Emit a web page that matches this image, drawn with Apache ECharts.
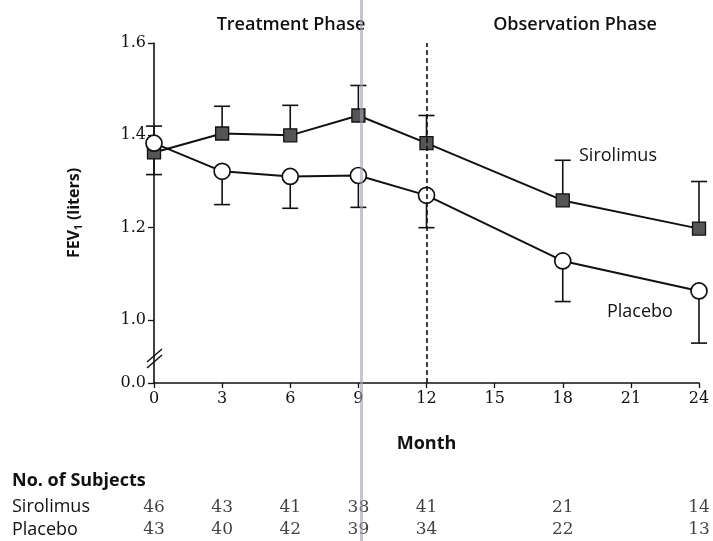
<!DOCTYPE html>
<html>
<head>
<meta charset="utf-8">
<script src="https://cdn.jsdelivr.net/npm/echarts@6/dist/echarts.min.js"></script>
<style>html,body{margin:0;padding:0;background:#fff;}#c{width:713px;height:541px;}</style>
</head>
<body>
<div id="c"></div>
<script>
// ---- data ----
const months = [0, 3, 6, 9, 12, 18, 24];
const sirolimusMean  = [1.363, 1.404, 1.400, 1.443, 1.383, 1.259, 1.198];
const sirolimusUpper = [1.420, 1.463, 1.465, 1.508, 1.443, 1.346, 1.300];
const placeboMean    = [1.383, 1.322, 1.311, 1.313, 1.270, 1.128, 1.063];
const placeboLower   = [1.315, 1.250, 1.242, 1.244, 1.200, 1.040, 0.950];
const sirolimusN = [46, 43, 41, 38, 41, 21, 14];
const placeboN   = [43, 40, 42, 39, 34, 22, 13];
const groups = ['Sirolimus', 'Placebo'];
// y axis: broken axis, "0.0" drawn just below the break
const yTickValues = [0.8636, 1.0, 1.2, 1.4, 1.6];
const yTickLabels = ['0.0', '1.0', '1.2', '1.4', '1.6'];

const numFont = 'DejaVu Serif';
const txtFont = 'Open Sans';

const chart = echarts.init(document.getElementById('c'), null, {renderer: 'canvas'});

function errRender(params, api) {
  const x = api.value(0);
  const p0 = api.coord([x, api.value(1)]);
  const p1 = api.coord([x, api.value(2)]);
  const st = {stroke: '#111', lineWidth: 1.6};
  return {
    type: 'group',
    children: [
      {type: 'line', shape: {x1: p0[0], y1: p0[1], x2: p1[0], y2: p1[1]}, style: st},
      {type: 'line', shape: {x1: p1[0] - 8, y1: p1[1], x2: p1[0] + 8, y2: p1[1]}, style: st}
    ]
  };
}

const tableData = [];
months.forEach((m, i) => {
  tableData.push({value: [m, groups[0], sirolimusN[i]]});
  tableData.push({value: [m, groups[1], placeboN[i]]});
});

const option = {
  animation: false,
  backgroundColor: '#fff',
  grid: [
    {left: 154, right: 14, top: 43, height: 340},
    {left: 154, right: 14, top: 496, height: 48}
  ],
  xAxis: [
    {
      gridIndex: 0, type: 'value', min: 0, max: 24, interval: 3,
      name: 'Month', nameLocation: 'middle', nameGap: 52,
      nameTextStyle: {fontFamily: txtFont, fontWeight: 'bold', fontSize: 18, color: '#111'},
      axisLine: {lineStyle: {color: '#111', width: 1.6}},
      axisTick: {show: true, length: 5, lineStyle: {color: '#111', width: 1.3}},
      axisLabel: {fontFamily: numFont, fontSize: 16, color: '#111', margin: 8},
      splitLine: {show: false}
    },
    {
      gridIndex: 1, type: 'value', min: 0, max: 24, show: false
    }
  ],
  yAxis: [
    {
      gridIndex: 0, type: 'value', min: yTickValues[0], max: 1.6,
      name: 'FEV{sub|1} (liters)', nameLocation: 'middle', nameGap: 70, nameRotate: 90,
      nameTextStyle: {
        fontFamily: txtFont, fontWeight: 'bold', fontSize: 16, color: '#111',
        rich: {sub: {fontFamily: txtFont, fontWeight: 'bold', fontSize: 10, color: '#111', padding: [9, 0, 0, 0]}}
      },
      axisLine: {show: true, lineStyle: {color: '#111', width: 1.6}},
      axisTick: {show: true, length: 6, customValues: yTickValues, lineStyle: {color: '#111', width: 1.3}},
      axisLabel: {
        customValues: yTickValues, fontFamily: numFont, fontSize: 16, color: '#111', margin: 8,
        formatter: function (v) {
          let best = 0;
          yTickValues.forEach((t, i) => { if (Math.abs(t - v) < Math.abs(yTickValues[best] - v)) best = i; });
          return yTickLabels[best];
        }
      },
      splitLine: {show: false}
    },
    {
      gridIndex: 1, type: 'category', data: groups, inverse: true,
      axisLine: {show: false}, axisTick: {show: false}, splitLine: {show: false},
      axisLabel: {interval: 0, hideOverlap: false, align: 'left', margin: 142, fontFamily: txtFont, fontSize: 18, color: '#111'}
    }
  ],
  series: [
    {
      name: 'sirErr', type: 'custom', xAxisIndex: 0, yAxisIndex: 0, z: 1,
      renderItem: errRender,
      data: months.map((m, i) => [m, sirolimusMean[i], sirolimusUpper[i]])
    },
    {
      name: 'plaErr', type: 'custom', xAxisIndex: 0, yAxisIndex: 0, z: 1,
      renderItem: errRender,
      data: months.map((m, i) => [m, placeboMean[i], placeboLower[i]])
    },
    {
      name: 'Sirolimus', type: 'line', xAxisIndex: 0, yAxisIndex: 0, z: 3,
      data: months.map((m, i) => [m, sirolimusMean[i]]),
      symbol: 'rect', symbolSize: 13,
      itemStyle: {color: '#555', borderColor: '#111', borderWidth: 1.3},
      lineStyle: {color: '#111', width: 2},
      markLine: {
        silent: true, symbol: 'none', label: {show: false},
        lineStyle: {color: '#111', type: [5, 3], width: 1.6},
        data: [{xAxis: 12}]
      }
    },
    {
      name: 'Placebo', type: 'line', xAxisIndex: 0, yAxisIndex: 0, z: 4,
      data: months.map((m, i) => [m, placeboMean[i]]),
      symbol: 'circle', symbolSize: 16,
      itemStyle: {color: '#fff', borderColor: '#111', borderWidth: 1.7},
      lineStyle: {color: '#111', width: 2}
    },
    {
      name: 'table', type: 'scatter', xAxisIndex: 1, yAxisIndex: 1,
      symbolSize: 1, itemStyle: {color: 'rgba(0,0,0,0)'},
      label: {
        show: true, position: 'inside', fontFamily: numFont, fontSize: 17, color: '#111',
        formatter: p => String(p.value[2])
      },
      data: tableData
    }
  ],
  graphic: [
    {type: 'text', x: 12, y: 481, style: {text: 'No. of Subjects', font: 'bold 18px "Open Sans"', fill: '#111', textVerticalAlign: 'middle'}},
    {type: 'text', x: 291, y: 25, style: {text: 'Treatment Phase', font: '600 18px "Open Sans"', fill: '#111', textAlign: 'center', textVerticalAlign: 'middle'}},
    {type: 'text', x: 575, y: 25, style: {text: 'Observation Phase', font: '600 18px "Open Sans"', fill: '#111', textAlign: 'center', textVerticalAlign: 'middle'}},
    {type: 'text', x: 579, y: 156, style: {text: 'Sirolimus', font: '18px "Open Sans"', fill: '#111', textVerticalAlign: 'middle'}},
    {type: 'text', x: 607, y: 312, style: {text: 'Placebo', font: '18px "Open Sans"', fill: '#111', textVerticalAlign: 'middle'}},
    // axis break marks
    {type: 'line', shape: {x1: 147, y1: 362, x2: 162, y2: 349}, style: {stroke: '#111', lineWidth: 1.5}, z: 10},
    {type: 'line', shape: {x1: 147, y1: 368, x2: 162, y2: 355}, style: {stroke: '#111', lineWidth: 1.5}, z: 10},
    // scan fold artefact
    {type: 'rect', shape: {x: 360, y: 0, width: 3, height: 541}, style: {fill: 'rgba(160,160,175,0.6)'}, z: 20}
  ]
};
chart.setOption(option);
</script>
</body>
</html>
